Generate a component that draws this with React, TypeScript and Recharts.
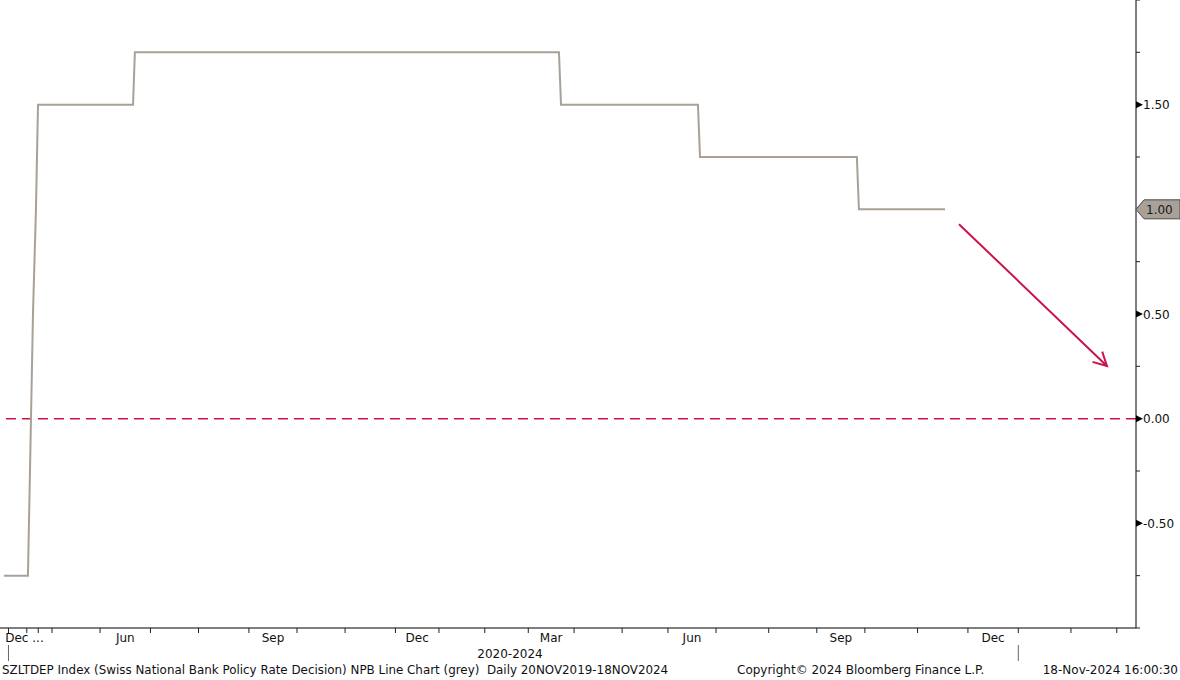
import React from 'react';
import { LineChart, Line, XAxis, YAxis, ReferenceLine } from 'recharts';

// x = trading-day index (0 = first trading day of January 2024)
const rateDays = [-190, -179.5, -178.6, -177.3, -176, -175.1, -133.6, -132.8, 52.4, 53.3, 113.1, 114, 182.5, 183.4, 221];
const rateValues = [-0.75, -0.75, -0.25, 0.5, 1.0, 1.5, 1.5, 1.75, 1.75, 1.5, 1.5, 1.25, 1.25, 1.0, 1.0];

// first trading day of each month (May 2023 .. Mar 2025)
const monthStarts = [-169, -148, -126, -105, -83, -62, -41, -19, 0, 20, 39, 59, 80, 100, 121, 144, 165, 186, 209, 231, 253, 276, 296];
const monthNames = ['May', 'Jun', 'Jul', 'Aug', 'Sep', 'Oct', 'Nov', 'Dec', 'Jan', 'Feb', 'Mar', 'Apr', 'May', 'Jun', 'Jul', 'Aug', 'Sep', 'Oct', 'Nov', 'Dec', 'Jan', 'Feb', 'Mar'];
const labeledMonths = ['Jun', 'Sep', 'Dec', 'Mar'];
const earlyTicks = [-188, -180, -175];
const yearTicks = [-188, 253];
const firstLabel = { pos: -181, text: 'Dec ...' };

const yTicks = [-1, -0.75, -0.5, -0.25, 0, 0.25, 0.5, 0.75, 1, 1.25, 1.5, 1.75, 2];
const lastValue = 1.0;
const arrowFrom = { d: 227.1, v: 0.929 };
const arrowTo = { d: 291.7, v: 0.252 };

const footerLeft = 'SZLTDEP Index (Swiss National Bank Policy Rate Decision) NPB Line Chart (grey)  Daily 20NOV2019-18NOV2024';
const footerMid = 'Copyright\u00A9 2024 Bloomberg Finance L.P.';
const footerRight = '18-Nov-2024 16:00:30';
const yearLabel = '2020-2024';

const FONT = '"DejaVu Sans", Verdana, sans-serif';
const LINE_COLOR = '#a9a197';
const RED = '#c9144a';

const data = rateDays.map((d, i) => ({ d, v: rateValues[i] }));

const labelMap = new Map<number, string>();
labelMap.set(firstLabel.pos, firstLabel.text);
for (let i = 0; i < monthStarts.length - 1; i++) {
  if (labeledMonths.includes(monthNames[i])) {
    labelMap.set((monthStarts[i] + monthStarts[i + 1]) / 2, monthNames[i]);
  }
}
const xTicks = Array.from(new Set([...earlyTicks, ...monthStarts, ...Array.from(labelMap.keys())])).sort((a, b) => a - b);

const XTick = (props: any) => {
  const { x, y, payload } = props;
  const v = payload.value;
  const label = labelMap.get(v);
  if (label !== undefined) {
    return (
      <text x={x} y={y + 14} textAnchor="middle" fontSize={12} fontFamily={FONT} fill="#111">
        {label}
      </text>
    );
  }
  const isYear = yearTicks.includes(v);
  return (
    <g>
      <line x1={x} x2={x} y1={y} y2={y + 5} stroke="#222" strokeWidth={1} />
      {isYear && <line x1={x} x2={x} y1={y + 17} y2={y + 33} stroke="#666" strokeWidth={1} />}
    </g>
  );
};

const YTick = (props: any) => {
  const { x, y, payload } = props;
  const v = payload.value as number;
  if (v === lastValue) {
    return (
      <g>
        <polygon
          points={`${x},${y} ${x + 8},${y - 9.5} ${x + 44},${y - 9.5} ${x + 44},${y + 9.5} ${x + 8},${y + 9.5}`}
          fill="#a9a197"
          stroke="#4a4a4a"
          strokeWidth={1}
        />
        <text x={x + 10} y={y + 4.5} fontSize={12} fontFamily={FONT} fill="#1a1a1a">
          {v.toFixed(2)}
        </text>
      </g>
    );
  }
  const major = Math.abs(v * 2 - Math.round(v * 2)) < 1e-9 && v > -1 && v < 2;
  if (major) {
    return (
      <g>
        <polygon points={`${x},${y - 3.5} ${x + 7},${y} ${x},${y + 3.5}`} fill="#000" />
        <text x={x + 7} y={y + 4.5} fontSize={12} fontFamily={FONT} fill="#111">
          {v.toFixed(2)}
        </text>
      </g>
    );
  }
  return <line x1={x} x2={x + 4} y1={y} y2={y} stroke="#222" strokeWidth={1} />;
};

const ArrowShape = (props: any) => {
  const { x1, y1, x2, y2 } = props;
  if ([x1, y1, x2, y2].some((n) => n === undefined || isNaN(n))) return null;
  const ang = Math.atan2(y2 - y1, x2 - x1);
  const len = 15;
  const spread = (28 * Math.PI) / 180;
  const a1x = x2 - len * Math.cos(ang - spread);
  const a1y = y2 - len * Math.sin(ang - spread);
  const a2x = x2 - len * Math.cos(ang + spread);
  const a2y = y2 - len * Math.sin(ang + spread);
  return (
    <g>
      <line x1={x1} y1={y1} x2={x2} y2={y2} stroke={RED} strokeWidth={2} />
      <polyline points={`${a1x},${a1y} ${x2},${y2} ${a2x},${a2y}`} fill="none" stroke={RED} strokeWidth={2} />
    </g>
  );
};

export default function App() {
  return (
    <div style={{ position: 'absolute', left: 0, top: 0, width: 1180, height: 680, background: '#fff' }}>
      <LineChart width={1180} height={680} data={data} margin={{ top: 0, right: 0, bottom: 0, left: 0 }}>
        <XAxis
          dataKey="d"
          type="number"
          domain={[-191.7, 304.4]}
          allowDataOverflow
          ticks={xTicks}
          interval={0}
          tick={<XTick />}
          tickLine={false}
          tickSize={0}
          tickMargin={0}
          height={52}
          axisLine={{ stroke: '#000', strokeWidth: 1 }}
        />
        <YAxis
          orientation="right"
          type="number"
          domain={[-1, 2]}
          allowDataOverflow
          ticks={yTicks}
          interval={0}
          tick={<YTick />}
          tickLine={false}
          tickSize={0}
          tickMargin={0}
          width={44}
          axisLine={{ stroke: '#000', strokeWidth: 1 }}
        />
        <ReferenceLine y={0} stroke={RED} strokeWidth={1.5} strokeDasharray="10 6" />
        <Line
          type="linear"
          dataKey="v"
          stroke={LINE_COLOR}
          strokeWidth={2}
          dot={false}
          activeDot={false}
          isAnimationActive={false}
        />
        <ReferenceLine
          segment={[
            { x: arrowFrom.d, y: arrowFrom.v },
            { x: arrowTo.d, y: arrowTo.v },
          ]}
          ifOverflow="visible"
          stroke={RED}
          shape={<ArrowShape />}
        />
      </LineChart>
      <svg width={1180} height={680} style={{ position: 'absolute', left: 0, top: 0, pointerEvents: 'none' }}>
        <text x={510} y={658} textAnchor="middle" fontSize={12} fontFamily={FONT} fill="#111">
          {yearLabel}
        </text>
        <text x={2} y={674} fontSize={11.9} fontFamily={FONT} fill="#111" style={{ whiteSpace: 'pre' }}>
          {footerLeft}
        </text>
        <text x={737} y={674} fontSize={12} fontFamily={FONT} fill="#111">
          {footerMid}
        </text>
        <text x={1178} y={674} textAnchor="end" fontSize={12} fontFamily={FONT} fill="#111">
          {footerRight}
        </text>
      </svg>
    </div>
  );
}
